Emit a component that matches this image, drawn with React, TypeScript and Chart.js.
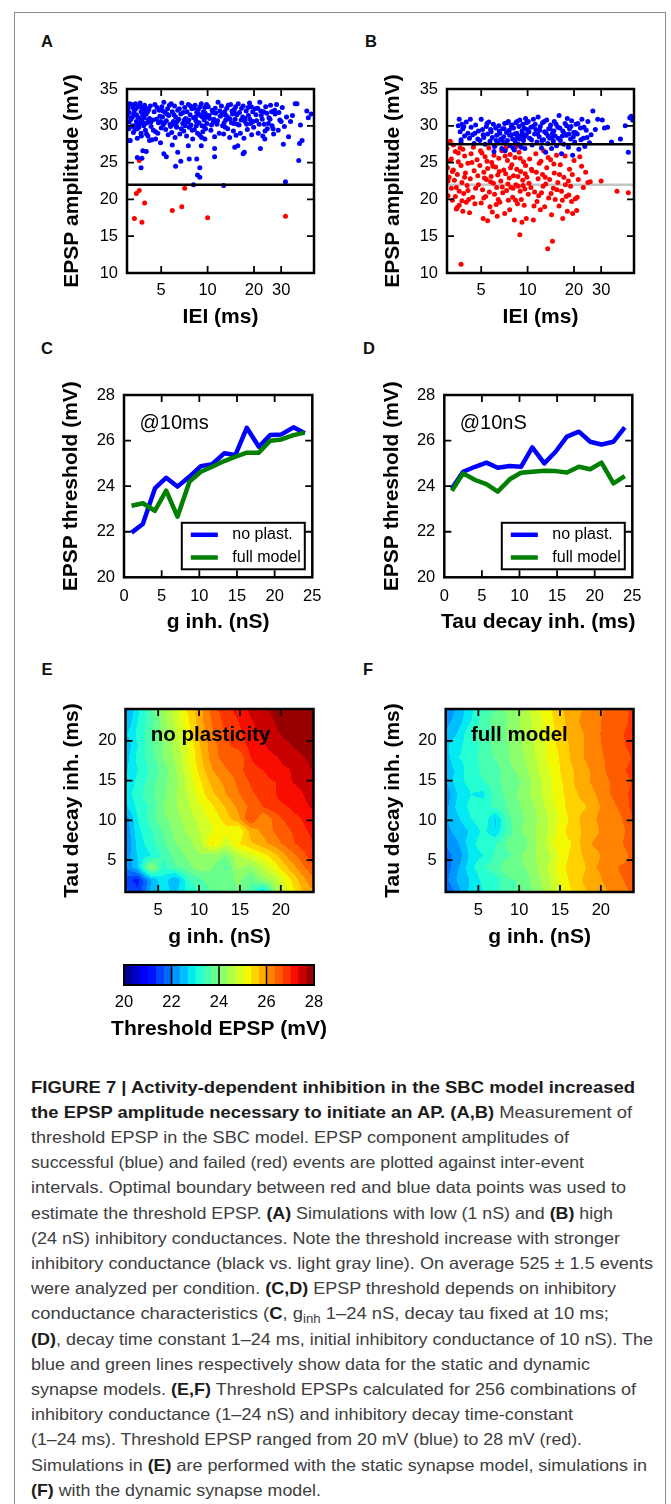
import React, { useEffect, useLayoutEffect, useRef } from 'react';
import { Chart, registerables } from 'chart.js';

Chart.register(...registerables);

const FONT = '"Liberation Sans", Arial, Helvetica, sans-serif';
Chart.defaults.font.family = FONT;
Chart.defaults.color = '#000';

type Pt = [number, number];

// ---------------- Panel A data (IEI ms, EPSP mV) ----------------
const ieiTicks = [5, 10, 20, 30];
const ieiMin = 3;
const ieiMax = 49;
const ampMin = 10;
const ampMax = 35;
const aThreshold = 22;
const aBlue: Pt[] = [
  [3.05, 32.4], [3.1, 31.8], [3.1, 30.5], [3.15, 28.0], [3.2, 32.9], [3.25, 31.2], [3.3, 30.0], [3.3, 29.1], [3.35, 32.1], [3.4, 33.0],
  [3.45, 31.5], [3.45, 30.6], [3.5, 29.6], [3.5, 28.3], [3.55, 32.6], [3.6, 31.0], [3.6, 30.2], [3.65, 33.1], [3.7, 31.9], [3.7, 29.0],
  [3.75, 30.7], [3.75, 32.4], [3.8, 31.4], [3.85, 30.0], [3.9, 32.8], [3.95, 29.4], [4.0, 31.6], [4.05, 30.4], [4.1, 28.6], [4.15, 32.2],
  [4.2, 31.0], [4.3, 29.9], [4.35, 28.1], [4.4, 30.8], [4.5, 31.9], [4.6, 29.2], [4.7, 32.5], [4.8, 30.4], [4.9, 31.3], [5.0, 29.7],
  [5.05, 32.6], [5.1, 31.2], [5.15, 30.1], [5.2, 33.2], [5.3, 31.8], [5.35, 29.5], [5.4, 30.7], [5.5, 32.3], [5.55, 28.8], [5.6, 31.4],
  [5.7, 30.2], [5.75, 29.9], [5.8, 33.0], [5.85, 29.1], [5.9, 31.9], [6.0, 30.6], [6.1, 32.7], [6.15, 28.4], [6.2, 31.2], [6.25, 30.0],
  [6.3, 29.8], [6.4, 32.1], [6.5, 30.9], [6.6, 28.9], [6.7, 31.6], [6.8, 33.1], [6.9, 30.3], [7.0, 29.3], [7.05, 30.8], [7.1, 32.5],
  [7.2, 31.0], [7.3, 28.6], [7.4, 30.5], [7.5, 32.9], [7.6, 29.8], [7.7, 31.5], [7.8, 30.1], [7.9, 32.3], [8.0, 28.2], [8.1, 31.1],
  [8.2, 29.5], [8.3, 32.8], [8.4, 30.7], [8.45, 30.0], [8.5, 31.8], [8.6, 29.0], [8.7, 32.2], [8.8, 30.4], [8.9, 28.7], [9.0, 31.4],
  [9.1, 33.0], [9.15, 28.4], [9.2, 30.0], [9.3, 29.2], [9.4, 31.9], [9.5, 30.8], [9.6, 32.5], [9.7, 29.6], [9.8, 31.2], [9.9, 30.3],
  [10.1, 32.6], [10.3, 31.0], [10.5, 29.4], [10.7, 32.1], [10.9, 30.5], [11.0, 30.9], [11.1, 28.5], [11.3, 31.7], [11.5, 30.2], [11.7, 33.2],
  [11.9, 29.0], [12.1, 31.3], [12.3, 32.7], [12.5, 30.0], [12.7, 28.9], [12.9, 31.9], [13.0, 29.8], [13.1, 30.8], [13.3, 32.4], [13.5, 29.6],
  [13.7, 31.1], [13.9, 28.4], [14.1, 32.9], [14.3, 30.4], [14.5, 31.6], [14.7, 29.3], [14.9, 32.2], [15.0, 31.7], [15.1, 30.9], [15.3, 28.7],
  [15.5, 31.5], [15.8, 33.0], [16.0, 30.1], [16.3, 29.0], [16.6, 32.4], [16.9, 31.2], [17.2, 28.3], [17.5, 30.6], [17.8, 32.0], [18.1, 29.5],
  [18.4, 31.4], [18.7, 33.1], [19.0, 30.3], [19.3, 28.8], [19.6, 31.9], [19.9, 29.8], [20.3, 32.3], [20.8, 30.7], [21.3, 29.0], [21.8, 33.2],
  [22.3, 31.4], [22.8, 28.6], [23.3, 30.2], [23.8, 32.6], [24.4, 29.6], [25.0, 31.1], [25.6, 32.8], [26.2, 30.0], [26.8, 28.9], [27.4, 31.6],
  [28.0, 32.9], [28.7, 29.4], [29.4, 30.8], [30.5, 32.5], [31.5, 29.9], [32.5, 31.2], [33.5, 28.5], [34.5, 30.6], [35.5, 31.4], [37.0, 33.0],
  [38.0, 33.0], [40.0, 30.1], [41.0, 28.0], [44.0, 32.0], [45.0, 31.1], [47.0, 31.6],
  [3.02, 31.3], [3.08, 29.6], [3.12, 33.0], [3.18, 30.9], [3.22, 29.9], [3.28, 32.5], [3.32, 31.6], [3.38, 29.5], [3.42, 32.3], [3.48, 30.1],
  [3.52, 31.2], [3.58, 29.8], [3.62, 32.8], [3.68, 30.4], [3.72, 28.6], [3.78, 31.7], [3.82, 32.0], [3.88, 31.1], [3.92, 30.3], [3.98, 32.4],
  [4.02, 28.9], [4.08, 31.9], [4.12, 30.8], [4.25, 32.7], [4.28, 30.5], [4.45, 29.4], [4.55, 32.9], [4.65, 30.9], [4.75, 29.0], [4.85, 32.1],
  [4.95, 30.6], [5.12, 32.0], [5.25, 30.4], [5.45, 31.6], [5.65, 32.8], [5.95, 30.2], [6.05, 31.5], [6.35, 30.6], [6.55, 32.3], [6.75, 29.6],
  [6.95, 31.8], [7.15, 30.0], [7.35, 31.9], [7.55, 30.8], [7.75, 32.7], [7.95, 29.4], [8.15, 32.4], [8.35, 31.2], [8.55, 30.4], [8.75, 31.6],
  [8.95, 32.6], [9.25, 31.2], [9.45, 29.9], [9.65, 31.7], [9.85, 32.9], [10.2, 31.4], [10.6, 30.1], [10.8, 31.8], [11.2, 32.4], [11.6, 30.7],
  [12.0, 32.0], [12.4, 31.5], [12.8, 30.4], [13.2, 31.4], [13.6, 32.8], [14.0, 30.9], [14.4, 32.0], [14.8, 30.3], [15.2, 32.6], [15.6, 30.2],
  [16.1, 31.8], [16.5, 30.8], [17.0, 32.7], [17.4, 31.0], [17.9, 30.2], [18.3, 32.5], [18.8, 30.9], [19.2, 32.6], [19.7, 30.6], [20.6, 31.5],
  [21.1, 32.4], [21.6, 30.2], [22.1, 32.0], [22.6, 30.9], [23.1, 31.9], [23.6, 29.3], [24.2, 31.7], [24.8, 30.3], [25.4, 30.9], [26.0, 31.9],
  [26.6, 29.6], [27.2, 32.1], [29.0, 31.8], [30.0, 30.6],
  [3.1, 28.0], [3.5, 25.7], [3.75, 25.6], [3.7, 24.3], [3.8, 26.6], [4.0, 26.5], [4.2, 28.0], [4.6, 28.2], [4.95, 27.7], [5.2, 26.2],
  [5.4, 25.8], [5.9, 27.4], [6.2, 24.5], [6.4, 26.4], [6.7, 25.2], [7.5, 27.3], [7.6, 25.5], [8.5, 25.5], [8.6, 23.3], [8.9, 24.3],
  [8.9, 23.0], [8.1, 22.0], [9.1, 27.3], [9.6, 28.2], [11.1, 26.9], [11.1, 25.8], [12.7, 21.9], [15.0, 27.1], [15.7, 27.3], [17.0, 26.2],
  [17.3, 26.4], [22.0, 26.9], [23.5, 28.2], [31.0, 27.5], [32.0, 22.4], [39.0, 25.3], [39.5, 27.6],
];
const aRed: Pt[] = [
  [3.6, 25.3], [3.45, 20.8], [3.6, 21.2], [3.35, 17.4], [3.75, 16.9], [3.9, 19.5], [5.9, 18.5], [6.8, 19.0], [7.1, 21.5], [10.0, 17.5], [32.0, 17.7],
];

// ---------------- Panel B data ----------------
const bThreshold = 27.5;
const bLowThreshold = 22;
const bBlue: Pt[] = [
  [3.6, 30.9], [3.65, 29.2], [3.7, 28.1], [3.75, 30.2], [3.8, 29.6], [3.9, 28.6], [4.0, 30.5], [4.1, 29.0], [4.2, 28.3], [4.3, 29.8],
  [4.4, 28.8], [4.5, 27.6], [4.6, 30.1], [4.8, 29.3], [4.9, 28.0], [3.7, 27.8],
  [5.0, 30.9], [5.1, 29.5], [5.2, 28.4], [5.3, 27.5], [5.4, 29.9], [5.5, 28.9], [5.6, 30.5], [5.7, 27.9], [5.8, 29.2], [5.9, 28.4],
  [6.0, 30.2], [6.05, 26.5], [6.1, 27.2], [6.2, 29.7], [6.3, 28.7], [6.4, 27.7], [6.5, 30.0], [6.6, 29.0], [6.7, 28.2], [6.8, 26.9],
  [6.9, 29.6], [7.0, 28.5], [7.1, 30.3], [7.15, 26.6], [7.2, 27.6], [7.3, 29.1], [7.4, 28.0], [7.5, 30.6], [7.6, 29.4], [7.7, 27.3],
  [7.8, 28.8], [7.9, 30.1], [8.0, 28.2], [8.05, 27.0], [8.1, 29.7], [8.2, 26.7], [8.3, 27.9], [8.4, 30.4], [8.5, 29.0], [8.6, 28.4],
  [8.7, 27.5], [8.8, 29.9], [8.9, 30.8], [9.0, 28.6], [9.1, 27.1], [9.2, 29.3], [9.3, 30.2], [9.4, 28.0], [9.5, 29.7], [9.6, 26.9],
  [9.7, 31.0], [9.8, 28.8], [9.9, 29.5],
  [10.1, 30.6], [10.3, 28.3], [10.5, 29.8], [10.7, 27.4], [10.9, 30.9], [11.1, 28.9], [11.3, 29.5], [11.5, 27.8], [11.7, 31.2], [11.9, 28.5],
  [12.1, 29.9], [12.3, 27.0], [12.5, 30.4], [12.7, 28.1], [12.9, 29.2], [13.1, 26.4], [13.3, 30.8], [13.5, 27.6], [13.7, 29.6], [13.9, 28.3],
  [14.1, 30.1], [14.3, 26.9], [14.5, 29.0], [14.7, 27.9], [14.9, 30.6], [15.1, 28.6], [15.4, 27.3], [15.7, 29.8], [16.0, 31.4], [16.3, 28.0],
  [16.6, 26.2], [16.9, 29.3], [17.2, 27.5], [17.5, 30.3], [17.8, 28.7], [18.1, 31.0], [18.4, 27.1], [18.7, 29.6], [19.0, 28.2], [19.3, 30.7],
  [19.6, 26.0], [19.9, 29.1], [20.2, 27.8], [20.6, 30.2], [21.0, 28.9], [21.5, 26.8], [22.0, 29.7], [22.5, 30.9], [23.0, 28.3], [23.5, 27.2],
  [24.0, 29.4], [24.6, 30.6], [25.2, 27.7], [25.8, 28.8], [26.5, 32.0], [27.5, 29.5], [28.5, 30.9], [30.5, 30.8], [31.5, 29.7], [33.0, 29.8],
  [35.0, 27.8], [40.0, 28.2], [43.0, 30.0], [45.0, 26.4], [46.0, 31.1], [47.0, 31.3], [48.0, 30.8],
  [3.55, 30.0], [3.85, 29.9], [4.25, 30.9], [4.55, 29.0], [4.75, 28.2], [5.15, 28.8], [5.45, 30.3], [5.75, 29.5], [6.25, 28.0], [6.55, 29.3],
  [6.85, 28.0], [7.05, 29.6], [7.35, 30.4], [7.65, 28.7], [7.85, 29.9], [8.25, 28.9], [8.55, 30.6], [8.85, 28.2], [9.25, 29.0], [9.55, 28.5],
  [9.85, 30.4], [10.2, 29.2], [10.6, 28.1], [10.8, 29.9], [11.2, 30.2], [11.6, 28.9], [12.0, 29.4], [12.4, 28.0], [12.8, 30.6], [13.2, 29.0],
  [13.6, 28.6], [14.0, 29.6], [14.4, 28.4], [14.8, 29.3], [15.3, 30.2], [15.8, 28.3], [16.2, 29.7], [16.8, 28.6], [17.3, 29.0], [17.9, 30.0],
  [18.5, 28.9], [19.1, 29.9], [19.8, 28.5], [20.4, 29.1], [21.2, 30.3], [22.2, 28.1], [23.2, 29.8], [24.3, 28.4],
];
const bRed: Pt[] = [
  [3.0, 26.9], [3.02, 24.3], [3.05, 20.5], [3.1, 23.0], [3.15, 27.9], [3.2, 25.5], [3.2, 21.5], [3.25, 19.9], [3.3, 24.0], [3.3, 27.4],
  [3.35, 22.6], [3.4, 26.5], [3.4, 20.4], [3.45, 18.7], [3.5, 23.4], [3.5, 18.9], [3.55, 25.1], [3.6, 21.1], [3.6, 19.2], [3.65, 27.0],
  [3.7, 24.6], [3.7, 11.2], [3.75, 22.3], [3.8, 18.4], [3.8, 26.8], [3.85, 20.8], [3.9, 25.9], [3.95, 23.6], [4.0, 19.6], [4.05, 21.9],
  [4.1, 24.9], [4.15, 20.0], [4.2, 18.2], [4.25, 22.8], [4.3, 26.2], [4.4, 20.3], [4.45, 27.1], [4.5, 23.9], [4.6, 21.5], [4.7, 25.4],
  [4.8, 22.0], [4.9, 24.6], [5.0, 19.5], [5.05, 26.3], [5.1, 21.3], [5.15, 17.4], [5.2, 23.7], [5.25, 22.9], [5.3, 25.8], [5.35, 20.4],
  [5.4, 22.7], [5.5, 17.1], [5.5, 24.2], [5.6, 27.0], [5.65, 21.0], [5.7, 19.0], [5.8, 23.1], [5.85, 25.0], [5.9, 18.3], [6.0, 22.2],
  [6.05, 26.0], [6.1, 20.7], [6.15, 27.3], [6.2, 24.4], [6.3, 21.6], [6.35, 17.7], [6.4, 23.3], [6.45, 20.0], [6.5, 25.6], [6.6, 19.6],
  [6.7, 22.5], [6.8, 26.6], [6.9, 20.9], [7.0, 24.0], [7.1, 18.1], [7.2, 23.5], [7.25, 27.0], [7.3, 21.2], [7.4, 25.3], [7.5, 19.9],
  [7.6, 22.9], [7.65, 18.6], [7.7, 26.1], [7.8, 21.6], [7.9, 24.7], [8.0, 20.3], [8.1, 23.2], [8.2, 17.2], [8.3, 25.7], [8.4, 22.0],
  [8.45, 27.2], [8.5, 24.1], [8.6, 19.4], [8.7, 21.8], [8.8, 26.4], [8.9, 15.2], [8.95, 21.1], [9.0, 23.8], [9.1, 20.0], [9.2, 16.9],
  [9.3, 22.6], [9.4, 25.1], [9.5, 19.2], [9.6, 21.4], [9.7, 24.6], [9.8, 17.4], [9.9, 23.0],
  [10.1, 20.7], [10.3, 25.5], [10.5, 21.6], [10.7, 23.9], [10.9, 17.2], [11.1, 21.0], [11.3, 26.2], [11.5, 19.7], [11.7, 22.8], [11.9, 24.9],
  [12.1, 18.6], [12.3, 20.9], [12.5, 23.4], [12.7, 26.6], [12.9, 19.0], [13.1, 22.1], [13.3, 24.3], [13.5, 13.3], [13.7, 20.2], [13.9, 22.7],
  [14.1, 25.4], [14.3, 17.9], [14.5, 14.3], [14.7, 21.5], [14.9, 23.6], [15.1, 20.0], [15.4, 26.0], [15.7, 22.3], [16.0, 19.1], [16.3, 24.7],
  [16.6, 21.1], [16.9, 17.4], [17.2, 23.0], [17.5, 25.9], [17.8, 20.4], [18.1, 18.4], [18.4, 22.5], [18.7, 24.1], [19.0, 21.8], [19.3, 19.7],
  [19.6, 18.1], [20.0, 25.3], [20.4, 20.1], [20.8, 18.5], [21.3, 22.7], [21.8, 25.8], [22.4, 24.5], [23.0, 21.6], [23.8, 23.7], [24.6, 22.3],
  [25.5, 22.4], [30.0, 22.5], [38.0, 21.1], [45.0, 20.9],
  [3.05, 22.5], [3.15, 25.3], [3.25, 23.8], [3.45, 21.6], [3.55, 26.3], [3.75, 19.8], [3.9, 23.0], [4.1, 21.2], [4.35, 25.0], [4.55, 19.4],
  [4.75, 23.2], [4.95, 26.6], [5.2, 20.2], [5.45, 25.2], [5.75, 22.4], [5.95, 24.5], [6.25, 19.3], [6.55, 23.8], [6.85, 21.7], [7.15, 25.9],
  [7.45, 22.1], [7.75, 24.3], [8.05, 21.5], [8.35, 19.9], [8.65, 23.1], [8.95, 25.6], [9.35, 21.9], [9.65, 23.5], [10.2, 22.2], [10.6, 24.1],
  [11.0, 19.1], [11.4, 23.7], [11.8, 20.5], [12.2, 25.2], [12.6, 21.8], [13.0, 23.0], [13.6, 25.7], [14.2, 20.8], [14.8, 24.8], [15.5, 21.3],
  [16.1, 23.4], [16.8, 19.9], [17.6, 22.0], [18.5, 20.6], [19.5, 23.4], [21.0, 20.3],
];

// ---------------- Panels C, D data ----------------
const sweepValues = [1, 2.5, 4.1, 5.6, 7.1, 8.7, 10.2, 11.7, 13.3, 14.8, 16.3, 17.9, 19.4, 20.9, 22.5, 24];
const cNoPlast = [21.96, 22.34, 23.9, 24.37, 23.98, 24.42, 24.88, 24.96, 25.44, 25.37, 26.56, 25.73, 26.24, 26.27, 26.58, 26.32];
const cFull = [23.14, 23.25, 22.92, 23.8, 22.66, 24.2, 24.63, 24.85, 25.1, 25.29, 25.47, 25.47, 25.99, 26.05, 26.24, 26.35];
const dNoPlast = [23.9, 24.63, 24.85, 25.03, 24.81, 24.88, 24.85, 25.7, 25.0, 25.51, 26.17, 26.39, 25.95, 25.83, 25.95, 26.58];
const dFull = [23.8, 24.56, 24.27, 24.09, 23.76, 24.3, 24.59, 24.63, 24.68, 24.66, 24.6, 24.85, 24.74, 25.03, 24.12, 24.44];
const seriesLabels = ['no plast.', 'full model'];

// ---------------- Panels E, F data (rows: tau ascending, cols: g ascending) ----------------
const gridG = [1, 2.5, 4.1, 5.6, 7.1, 8.7, 10.2, 11.7, 13.3, 14.8, 16.3, 17.9, 19.4, 20.9, 22.5, 24];
const gridTau = [1, 2.5, 4.1, 5.6, 7.1, 8.7, 10.2, 11.7, 13.3, 14.8, 16.3, 17.9, 19.4, 20.9, 22.5, 24];
const eGrid: number[][] = [
  [21.8, 21.4, 22.4, 22.8, 22.6, 23.1, 23.4, 23.7, 24.0, 23.9, 23.6, 22.6, 24.3, 25.0, 25.6, 26.0],
  [21.5, 21.2, 22.3, 22.9, 22.3, 23.3, 23.6, 23.9, 23.8, 24.1, 23.7, 24.2, 24.6, 25.2, 25.8, 26.3],
  [22.0, 22.6, 24.3, 23.2, 23.6, 23.9, 24.2, 24.0, 23.6, 24.4, 24.2, 24.7, 25.2, 25.7, 26.2, 26.6],
  [22.1, 22.7, 23.0, 23.4, 23.8, 24.1, 24.3, 24.2, 24.0, 24.6, 24.9, 25.2, 25.6, 26.1, 26.5, 26.9],
  [21.9, 22.8, 23.2, 23.6, 24.0, 24.2, 24.6, 25.4, 24.8, 25.3, 25.6, 25.9, 26.2, 26.5, 26.8, 27.0],
  [22.0, 22.9, 23.3, 23.7, 24.1, 24.4, 24.7, 25.0, 25.2, 25.0, 25.8, 26.1, 26.4, 26.6, 26.9, 27.1],
  [22.1, 23.0, 23.5, 23.9, 24.2, 24.5, 24.8, 25.1, 25.5, 25.9, 26.7, 26.0, 26.5, 26.8, 27.0, 27.2],
  [22.6, 23.1, 23.4, 24.0, 24.3, 24.6, 25.0, 25.3, 25.7, 26.1, 26.4, 26.7, 26.9, 27.0, 27.2, 27.4],
  [22.8, 23.2, 23.6, 23.9, 24.3, 24.7, 25.2, 25.6, 26.0, 26.3, 26.6, 26.8, 27.0, 27.2, 27.3, 27.5],
  [22.7, 23.1, 23.5, 23.9, 24.2, 24.8, 25.3, 25.8, 26.1, 26.4, 26.7, 26.9, 27.0, 27.3, 27.4, 27.6],
  [22.6, 23.0, 23.4, 23.8, 24.3, 24.9, 25.5, 26.0, 26.3, 26.5, 26.9, 27.0, 27.2, 27.3, 27.5, 27.7],
  [22.5, 23.1, 23.5, 24.0, 24.4, 25.0, 25.6, 26.2, 26.5, 26.4, 27.0, 27.2, 27.3, 27.5, 27.6, 27.8],
  [22.4, 23.0, 23.6, 24.0, 24.5, 25.0, 25.7, 26.2, 26.6, 26.8, 27.1, 27.3, 27.5, 27.6, 27.8, 27.9],
  [22.6, 23.1, 23.6, 24.1, 24.6, 25.2, 25.8, 26.3, 26.7, 26.9, 27.2, 27.4, 27.6, 27.8, 27.9, 28.0],
  [22.3, 23.0, 23.5, 24.2, 24.7, 25.3, 25.9, 26.4, 26.8, 27.0, 27.3, 27.5, 27.7, 27.9, 28.0, 27.9],
  [22.2, 22.9, 23.6, 24.3, 24.8, 25.4, 25.9, 26.5, 26.9, 27.1, 27.4, 27.6, 27.8, 27.9, 27.8, 27.9],
];
const fGrid: number[][] = [
  [21.6, 22.2, 22.8, 23.0, 23.3, 23.5, 23.8, 24.0, 24.4, 24.9, 25.3, 25.6, 25.8, 26.0, 26.2, 26.4],
  [21.9, 22.4, 22.7, 23.1, 23.2, 23.6, 23.7, 24.1, 24.5, 25.0, 25.4, 25.7, 25.9, 26.1, 26.3, 26.5],
  [21.8, 22.3, 22.9, 23.3, 23.5, 24.0, 23.9, 24.2, 24.6, 25.1, 25.5, 25.6, 26.0, 26.1, 26.4, 26.4],
  [21.9, 22.1, 22.8, 23.0, 23.4, 23.6, 24.0, 24.3, 24.5, 25.0, 25.4, 25.7, 25.9, 26.2, 26.1, 26.5],
  [22.0, 22.3, 22.9, 23.2, 23.3, 23.8, 23.7, 24.2, 24.7, 25.2, 25.3, 25.8, 26.1, 26.0, 26.3, 26.6],
  [22.2, 22.5, 22.7, 23.1, 22.7, 23.5, 24.0, 24.3, 24.6, 25.1, 25.5, 25.7, 25.9, 26.3, 26.2, 26.6],
  [22.3, 22.6, 23.0, 23.3, 22.6, 23.6, 23.9, 24.2, 24.6, 25.0, 25.4, 25.8, 26.0, 26.2, 26.3, 26.7],
  [22.2, 22.8, 23.1, 23.2, 23.4, 23.7, 24.0, 24.3, 24.7, 25.1, 25.5, 25.6, 25.9, 26.2, 26.4, 26.8],
  [22.1, 22.7, 23.0, 22.9, 23.5, 23.8, 24.1, 24.4, 24.8, 25.2, 25.5, 25.8, 26.0, 26.3, 26.5, 26.8],
  [22.3, 22.9, 23.1, 23.3, 23.6, 23.8, 24.0, 24.4, 24.8, 25.2, 25.6, 25.9, 26.1, 26.3, 26.5, 26.7],
  [22.4, 22.8, 23.2, 23.4, 23.5, 23.9, 24.1, 24.5, 24.9, 25.3, 25.6, 25.9, 26.1, 26.4, 26.6, 26.8],
  [22.5, 23.0, 23.1, 23.5, 23.7, 24.0, 24.2, 24.6, 25.0, 25.3, 25.7, 26.0, 26.2, 26.4, 26.5, 26.7],
  [22.6, 22.9, 23.2, 23.4, 23.8, 24.0, 24.3, 24.6, 25.0, 25.4, 25.7, 26.0, 26.2, 26.5, 26.6, 26.8],
  [22.4, 22.7, 23.3, 23.6, 23.7, 24.1, 24.3, 24.7, 25.1, 25.4, 25.8, 26.0, 26.3, 26.4, 26.6, 26.9],
  [22.2, 22.5, 23.0, 23.5, 23.8, 24.0, 24.4, 24.7, 25.1, 25.5, 25.8, 26.1, 26.2, 26.5, 26.5, 26.8],
  [22.1, 22.4, 22.9, 23.4, 23.7, 24.1, 24.4, 24.8, 25.2, 25.5, 25.9, 26.0, 26.2, 26.4, 26.6, 26.7],
];
const mapTicks = [5, 10, 15, 20];

// ---------------- Colour bar ----------------
const cbMin = 20;
const cbMax = 28;
const cbStep = 1 / 3;
const cbTicks = [20, 22, 24, 26, 28];

// ---------------- Colormap (jet) ----------------
const JET_R: Pt[] = [[0, 0], [0.35, 0], [0.66, 1], [0.89, 1], [1, 0.5]];
const JET_G: Pt[] = [[0, 0], [0.125, 0], [0.375, 1], [0.64, 1], [0.91, 0], [1, 0]];
const JET_B: Pt[] = [[0, 0.5], [0.11, 1], [0.34, 1], [0.65, 0], [1, 0]];
function seg(p: Pt[], t: number) {
  if (t <= p[0][0]) return p[0][1];
  for (let i = 1; i < p.length; i++) {
    if (t <= p[i][0]) {
      const [x0, y0] = p[i - 1];
      const [x1, y1] = p[i];
      return y0 + ((t - x0) / (x1 - x0)) * (y1 - y0);
    }
  }
  return p[p.length - 1][1];
}
function jet(t: number): number[] {
  return [seg(JET_R, t), seg(JET_G, t), seg(JET_B, t)].map((c) => Math.round(c * 255));
}
const levelCount = Math.round((cbMax - cbMin) / cbStep);
const bandColors: number[][] = [];
for (let i = 0; i < levelCount; i++) {
  const mid = cbMin + (i + 0.5) * cbStep;
  bandColors.push(jet((mid - cbMin) / (cbMax - cbMin)));
}
function bandIndex(v: number) {
  return Math.max(0, Math.min(levelCount - 1, Math.floor((v - cbMin) / cbStep + 1e-9)));
}
function sampleGrid(grid: number[][], g: number, t: number) {
  const find = (arr: number[], v: number) => {
    const c = Math.max(arr[0], Math.min(arr[arr.length - 1], v));
    let i = 0;
    while (i < arr.length - 2 && c > arr[i + 1]) i++;
    return [i, (c - arr[i]) / (arr[i + 1] - arr[i])];
  };
  const [i, fx] = find(gridG, g);
  const [j, fy] = find(gridTau, t);
  const v00 = grid[j][i], v10 = grid[j][i + 1], v01 = grid[j + 1][i], v11 = grid[j + 1][i + 1];
  return v00 * (1 - fx) * (1 - fy) + v10 * fx * (1 - fy) + v01 * (1 - fx) * fy + v11 * fx * fy;
}

// ---------------- Geometry helpers ----------------
type Geo = { L: number; T: number; R: number; B: number; xTitleY: number; yTitleX?: number; xLabelY: number };

function layoutFor(g: Geo, noYAxis = false) {
  const x = Math.floor(g.L - 70);
  const y = Math.floor(g.T - 20);
  const w = Math.ceil(g.R + 22) - x;
  const h = Math.ceil(g.xTitleY + 18) - y;
  return {
    rect: { x, y, w, h },
    yW: g.L - x,
    xH: y + h - g.B,
    padding: { left: noYAxis ? g.L - x : 0, top: g.T - y, right: x + w - g.R, bottom: 0 },
    xTickPad: g.xLabelY - g.B - 9.9,
    xTitleOff: g.xTitleY - g.B,
    yTitleOff: g.yTitleX !== undefined ? g.L - g.yTitleX : 0,
  };
}

function axis(o: { log?: boolean; min: number; max: number; step?: number; ticks?: number[]; pad: number; fitW?: number; fitH?: number }) {
  return {
    type: o.log ? 'logarithmic' : 'linear',
    min: o.min,
    max: o.max,
    grid: { display: false, drawTicks: false },
    border: { display: false },
    ticks: {
      font: { size: 16.5 },
      color: '#000',
      padding: o.pad,
      autoSkip: false,
      maxRotation: 0,
      minRotation: 0,
      stepSize: o.step,
      callback: (v: any) => String(v),
    },
    afterBuildTicks: o.ticks ? (s: any) => { s.ticks = o.ticks!.map((v) => ({ value: v })); } : undefined,
    afterFit: (s: any) => {
      if (o.fitW !== undefined) s.width = o.fitW;
      if (o.fitH !== undefined) s.height = o.fitH;
    },
  };
}

function framePlugin() {
  return {
    id: 'frame',
    afterDatasetsDraw(chart: any) {
      const { ctx, chartArea: a, scales } = chart;
      const xs = scales.x, ys = scales.y;
      const tl = 7;
      ctx.save();
      ctx.strokeStyle = '#000';
      ctx.lineWidth = 1.8;
      ctx.beginPath();
      for (const t of xs.ticks) {
        if (t.value <= xs.min || t.value >= xs.max) continue;
        const p = xs.getPixelForValue(t.value);
        ctx.moveTo(p, a.bottom); ctx.lineTo(p, a.bottom - tl);
        ctx.moveTo(p, a.top); ctx.lineTo(p, a.top + tl);
      }
      for (const t of ys.ticks) {
        if (t.value <= ys.min || t.value >= ys.max) continue;
        const p = ys.getPixelForValue(t.value);
        ctx.moveTo(a.left, p); ctx.lineTo(a.left + tl, p);
        ctx.moveTo(a.right, p); ctx.lineTo(a.right - tl, p);
      }
      ctx.stroke();
      ctx.lineWidth = 2.5;
      ctx.strokeRect(a.left, a.top, a.right - a.left, a.bottom - a.top);
      ctx.restore();
    },
  };
}

function titlePlugin(xTitle: string, yTitle: string | null, xOff: number, yOff: number) {
  return {
    id: 'axisTitles',
    afterDraw(chart: any) {
      const { ctx, chartArea: a } = chart;
      ctx.save();
      ctx.fillStyle = '#000';
      ctx.font = `bold 21px ${FONT}`;
      ctx.textAlign = 'center';
      ctx.textBaseline = 'middle';
      ctx.fillText(xTitle, (a.left + a.right) / 2, a.bottom + xOff);
      if (yTitle) {
        ctx.translate(a.left - yOff, (a.top + a.bottom) / 2);
        ctx.rotate(-Math.PI / 2);
        ctx.fillText(yTitle, 0, 0);
      }
      ctx.restore();
    },
  };
}

function notePlugin(text: string, dx: number, dy: number, font: string) {
  return {
    id: 'note',
    afterDraw(chart: any) {
      const { ctx, chartArea: a } = chart;
      ctx.save();
      ctx.fillStyle = '#000';
      ctx.font = font;
      ctx.textAlign = 'left';
      ctx.textBaseline = 'middle';
      ctx.fillText(text, a.left + dx, a.top + dy);
      ctx.restore();
    },
  };
}

function boxLegendPlugin() {
  return {
    id: 'boxLegend',
    afterDatasetsDraw(chart: any) {
      const { ctx, chartArea: a } = chart;
      const w = 123, h = 46.5;
      const right = a.right - 7.5, bottom = a.bottom - 8;
      const left = right - w, top = bottom - h;
      ctx.save();
      ctx.fillStyle = '#fff';
      ctx.fillRect(left, top, w, h);
      ctx.strokeStyle = '#000';
      ctx.lineWidth = 2;
      ctx.strokeRect(left, top, w, h);
      const items = chart.data.datasets.filter((d: any) => d.label);
      items.forEach((d: any, i: number) => {
        const yy = top + 12 + i * 22.7;
        ctx.strokeStyle = d.borderColor;
        ctx.lineWidth = 4.5;
        ctx.beginPath();
        ctx.moveTo(left + 9, yy);
        ctx.lineTo(left + 36, yy);
        ctx.stroke();
        ctx.fillStyle = '#000';
        ctx.font = `16px ${FONT}`;
        ctx.textBaseline = 'middle';
        ctx.fillText(d.label, left + 50.5, yy);
      });
      ctx.restore();
    },
  };
}

function contourPlugin(grid: number[][]) {
  return {
    id: 'contour',
    beforeDatasetsDraw(chart: any) {
      const { ctx, chartArea: a, scales } = chart;
      const xs = scales.x, ys = scales.y;
      const L = Math.floor(a.left), T = Math.floor(a.top);
      const W = Math.ceil(a.right) - L, H = Math.ceil(a.bottom) - T;
      const off = document.createElement('canvas');
      off.width = W; off.height = H;
      const octx = off.getContext('2d')!;
      const img = octx.createImageData(W, H);
      for (let j = 0; j < H; j++) {
        const tv = ys.getValueForPixel(T + j + 0.5);
        for (let i = 0; i < W; i++) {
          const gv = xs.getValueForPixel(L + i + 0.5);
          const c = bandColors[bandIndex(sampleGrid(grid, gv, tv))];
          const k = (j * W + i) * 4;
          img.data[k] = c[0]; img.data[k + 1] = c[1]; img.data[k + 2] = c[2]; img.data[k + 3] = 255;
        }
      }
      octx.putImageData(img, 0, 0);
      ctx.save();
      ctx.beginPath();
      ctx.rect(a.left, a.top, a.right - a.left, a.bottom - a.top);
      ctx.clip();
      ctx.drawImage(off, L, T);
      ctx.restore();
    },
  };
}

function colorbarFramePlugin() {
  return {
    id: 'cbFrame',
    afterDatasetsDraw(chart: any) {
      const { ctx, chartArea: a, scales } = chart;
      const xs = scales.x;
      ctx.save();
      ctx.strokeStyle = '#000';
      ctx.lineWidth = 1.5;
      ctx.beginPath();
      for (const t of xs.ticks) {
        if (t.value <= xs.min || t.value >= xs.max) continue;
        const p = xs.getPixelForValue(t.value);
        ctx.moveTo(p, a.top); ctx.lineTo(p, a.bottom);
      }
      ctx.stroke();
      ctx.lineWidth = 2;
      ctx.strokeRect(a.left, a.top, a.right - a.left, a.bottom - a.top);
      ctx.restore();
    },
  };
}

const baseOptions = (lay: any) => ({
  responsive: false,
  animation: false,
  devicePixelRatio: 1,
  events: [],
  layout: { padding: lay.padding },
  plugins: { legend: { display: false }, tooltip: { enabled: false } },
});

const toXY = (pts: Pt[]) => pts.map(([x, y]) => ({ x, y }));

// ---------------- Panel definitions ----------------
const GEO_A: Geo = { L: 127, T: 89, R: 314, B: 273, xTitleY: 317.5, yTitleX: 72, xLabelY: 290.3 };
const GEO_B: Geo = { L: 447, T: 89, R: 634, B: 273, xTitleY: 317.5, yTitleX: 393.3, xLabelY: 290.3 };
const GEO_C: Geo = { L: 124, T: 395, R: 312.3, B: 577.3, xTitleY: 622, yTitleX: 71.7, xLabelY: 596 };
const GEO_D: Geo = { L: 444.3, T: 395, R: 632.3, B: 577.3, xTitleY: 622, yTitleX: 392, xLabelY: 596 };
const GEO_E: Geo = { L: 125.5, T: 709, R: 313.5, B: 892, xTitleY: 937, yTitleX: 72.5, xLabelY: 910 };
const GEO_F: Geo = { L: 445.7, T: 709, R: 633.5, B: 892, xTitleY: 937, yTitleX: 393, xLabelY: 910 };
const GEO_CB: Geo = { L: 124, T: 965, R: 314, B: 985, xTitleY: 1029, xLabelY: 1002 };

function scatterPanel(geo: Geo, blue: Pt[], red: Pt[], lines: { y: number; color: string; order: number }[]) {
  const lay = layoutFor(geo);
  const config = {
    type: 'scatter',
    data: {
      datasets: [
        ...lines.map((l) => ({
          data: [{ x: ieiMin, y: l.y }, { x: ieiMax, y: l.y }],
          showLine: true,
          borderColor: l.color,
          borderWidth: 2.5,
          pointRadius: 0,
          order: l.order,
        })),
        { data: toXY(blue), backgroundColor: '#0000ff', borderWidth: 0, pointRadius: 2.5, order: 1 },
        { data: toXY(red), backgroundColor: '#ff0000', borderWidth: 0, pointRadius: 2.5, order: 2 },
      ],
    },
    options: {
      ...baseOptions(lay),
      scales: {
        x: axis({ log: true, min: ieiMin, max: ieiMax, ticks: ieiTicks, pad: lay.xTickPad, fitH: lay.xH }),
        y: axis({ min: ampMin, max: ampMax, step: 5, pad: 9, fitW: lay.yW }),
      },
    },
    plugins: [framePlugin(), titlePlugin('IEI (ms)', 'EPSP amplitude (mV)', lay.xTitleOff, lay.yTitleOff)],
  };
  return { rect: lay.rect, config };
}

function linePanel(geo: Geo, noPlast: number[], full: number[], xTitle: string, note: string) {
  const lay = layoutFor(geo);
  const config = {
    type: 'scatter',
    data: {
      datasets: [
        { label: seriesLabels[0], data: sweepValues.map((x, i) => ({ x, y: noPlast[i] })), showLine: true, borderColor: '#0000ff', borderWidth: 4.5, pointRadius: 0, borderJoinStyle: 'round', order: 2 },
        { label: seriesLabels[1], data: sweepValues.map((x, i) => ({ x, y: full[i] })), showLine: true, borderColor: '#007f00', borderWidth: 4.5, pointRadius: 0, borderJoinStyle: 'round', order: 1 },
      ],
    },
    options: {
      ...baseOptions(lay),
      scales: {
        x: axis({ min: 0, max: 25, step: 5, pad: lay.xTickPad, fitH: lay.xH }),
        y: axis({ min: 20, max: 28, step: 2, pad: 9, fitW: lay.yW }),
      },
    },
    plugins: [
      boxLegendPlugin(),
      framePlugin(),
      titlePlugin(xTitle, 'EPSP threshold (mV)', lay.xTitleOff, lay.yTitleOff),
      notePlugin(note, 15.5, 28.5, `20px ${FONT}`),
    ],
  };
  return { rect: lay.rect, config };
}

function mapPanel(geo: Geo, grid: number[][], note: string) {
  const lay = layoutFor(geo);
  const pts: { x: number; y: number }[] = [];
  gridTau.forEach((t) => gridG.forEach((g) => pts.push({ x: g, y: t })));
  const config = {
    type: 'scatter',
    data: { datasets: [{ data: pts, pointRadius: 0 }] },
    options: {
      ...baseOptions(lay),
      scales: {
        x: axis({ min: gridG[0], max: gridG[gridG.length - 1], ticks: mapTicks, pad: lay.xTickPad, fitH: lay.xH }),
        y: axis({ min: gridTau[0], max: gridTau[gridTau.length - 1], ticks: mapTicks, pad: 9, fitW: lay.yW }),
      },
    },
    plugins: [
      contourPlugin(grid),
      framePlugin(),
      titlePlugin('g inh. (nS)', 'Tau decay inh. (ms)', lay.xTitleOff, lay.yTitleOff),
      notePlugin(note, 25.3, 26, `bold 20.5px ${FONT}`),
    ],
  };
  return { rect: lay.rect, config };
}

function colorbarPanel(geo: Geo) {
  const lay = layoutFor(geo, true);
  const datasets = bandColors.map((c, i) => ({
    data: [[cbMin + i * cbStep, cbMin + (i + 1) * cbStep]],
    backgroundColor: `rgb(${c[0]},${c[1]},${c[2]})`,
    borderWidth: 0,
    grouped: false,
    barPercentage: 1,
    categoryPercentage: 1,
  }));
  const config = {
    type: 'bar',
    data: { labels: [''], datasets },
    options: {
      ...baseOptions(lay),
      indexAxis: 'y',
      scales: {
        x: axis({ min: cbMin, max: cbMax, ticks: cbTicks, pad: lay.xTickPad, fitH: lay.xH }),
        y: { display: false },
      },
    },
    plugins: [colorbarFramePlugin(), titlePlugin('Threshold EPSP (mV)', null, lay.xTitleOff, 0)],
  };
  return { rect: lay.rect, config };
}

function ChartBox({ spec }: { spec: { rect: any; config: any } }) {
  const ref = useRef<HTMLCanvasElement>(null);
  useEffect(() => {
    const chart = new Chart(ref.current as HTMLCanvasElement, spec.config);
    return () => chart.destroy();
  }, []);
  const r = spec.rect;
  return (
    <canvas
      ref={ref}
      width={r.w}
      height={r.h}
      style={{ position: 'absolute', left: r.x, top: r.y, width: r.w, height: r.h }}
    />
  );
}

// ---------------- Caption ----------------
type Seg = { t: string; b?: boolean; sub?: boolean };
const captionLines: Seg[][] = [
  [{ t: 'FIGURE 7 | Activity-dependent inhibition in the SBC model increased', b: true }],
  [{ t: 'the EPSP amplitude necessary to initiate an AP. (A,B)', b: true }, { t: ' Measurement of' }],
  [{ t: 'threshold EPSP in the SBC model. EPSP component amplitudes of' }],
  [{ t: 'successful (blue) and failed (red) events are plotted against inter-event' }],
  [{ t: 'intervals. Optimal boundary between red and blue data points was used to' }],
  [{ t: 'estimate the threshold EPSP. ' }, { t: '(A)', b: true }, { t: ' Simulations with low (1 nS) and ' }, { t: '(B)', b: true }, { t: ' high' }],
  [{ t: '(24 nS) inhibitory conductances. Note the threshold increase with stronger' }],
  [{ t: 'inhibitory conductance (black vs. light gray line). On average 525 \u00b1 1.5 events' }],
  [{ t: 'were analyzed per condition. ' }, { t: '(C,D)', b: true }, { t: ' EPSP threshold depends on inhibitory' }],
  [{ t: 'conductance characteristics (' }, { t: 'C', b: true }, { t: ', g' }, { t: 'inh', sub: true }, { t: ' 1\u201324 nS, decay tau fixed at 10 ms;' }],
  [{ t: '(D)', b: true }, { t: ', decay time constant 1\u201324 ms, initial inhibitory conductance of 10 nS). The' }],
  [{ t: 'blue and green lines respectively show data for the static and dynamic' }],
  [{ t: 'synapse models. ' }, { t: '(E,F)', b: true }, { t: ' Threshold EPSPs calculated for 256 combinations of' }],
  [{ t: 'inhibitory conductance (1\u201324 nS) and inhibitory decay time-constant' }],
  [{ t: '(1\u201324 ms). Threshold EPSP ranged from 20 mV (blue) to 28 mV (red).' }],
  [{ t: 'Simulations in ' }, { t: '(E)', b: true }, { t: ' are performed with the static synapse model, simulations in' }],
  [{ t: '(F)', b: true }, { t: ' with the dynamic synapse model.' }],
];
const captionEnds = [635, 632, 569, 584, 626, 613, 620, 653, 616, 609, 653, 590, 636, 573, 582, 647, 321];
const captionLeft = 31;
const captionFirstCenter = 1087;
const captionStep = 25.2;

function CaptionLine({ segs, top, width }: { segs: Seg[]; top: number; width: number }) {
  const ref = useRef<HTMLSpanElement>(null);
  useLayoutEffect(() => {
    const el = ref.current;
    if (!el) return;
    const fit = () => {
      el.style.transform = 'none';
      const w = el.getBoundingClientRect().width;
      if (w > 0) el.style.transform = `scaleX(${width / w})`;
    };
    fit();
    const f: any = (document as any).fonts;
    if (f && f.ready) f.ready.then(fit);
  }, [width]);
  return (
    <div style={{ position: 'absolute', left: captionLeft, top, whiteSpace: 'nowrap', lineHeight: '25px', fontSize: 16.5, color: '#3d3d3d' }}>
      <span ref={ref} style={{ display: 'inline-block', transformOrigin: '0 50%' }}>
        {segs.map((s, i) =>
          s.b ? (
            <b key={i} style={{ color: '#1c1c1c' }}>{s.t}</b>
          ) : s.sub ? (
            <sub key={i} style={{ fontSize: '0.72em', lineHeight: 0 }}>{s.t}</sub>
          ) : (
            <span key={i}>{s.t}</span>
          )
        )}
      </span>
    </div>
  );
}

const panelLetters = [
  { t: 'A', x: 41, y: 41 },
  { t: 'B', x: 365, y: 41 },
  { t: 'C', x: 41, y: 347.5 },
  { t: 'D', x: 363, y: 347.5 },
  { t: 'E', x: 41.5, y: 669 },
  { t: 'F', x: 363, y: 669 },
];

export default function App() {
  const specs = [
    scatterPanel(GEO_A, aBlue, aRed, [{ y: aThreshold, color: '#000', order: 0 }]),
    scatterPanel(GEO_B, bBlue, bRed, [
      { y: bThreshold, color: '#000', order: 0 },
      { y: bLowThreshold, color: '#c4c4c4', order: 3 },
    ]),
    linePanel(GEO_C, cNoPlast, cFull, 'g inh. (nS)', '@10ms'),
    linePanel(GEO_D, dNoPlast, dFull, 'Tau decay inh. (ms)', '@10nS'),
    mapPanel(GEO_E, eGrid, 'no plasticity'),
    mapPanel(GEO_F, fGrid, 'full model'),
    colorbarPanel(GEO_CB),
  ];
  return (
    <div style={{ position: 'absolute', left: 0, top: 0, width: 671, height: 1504, background: '#fff', overflow: 'hidden', fontFamily: FONT }}>
      <div style={{ position: 'absolute', left: 14, top: 12, width: 652, height: 1560, border: '1px solid #8c8c8c', boxSizing: 'border-box' }} />
      {panelLetters.map((p) => (
        <div key={p.t} style={{ position: 'absolute', left: p.x, top: p.y - 10, lineHeight: '20px', fontSize: 16.5, fontWeight: 'bold', color: '#111' }}>
          {p.t}
        </div>
      ))}
      {specs.map((s, i) => (
        <ChartBox key={i} spec={s} />
      ))}
      {captionLines.map((segs, i) => (
        <CaptionLine key={i} segs={segs} top={captionFirstCenter - 12.5 + i * captionStep} width={captionEnds[i] - captionLeft} />
      ))}
    </div>
  );
}
